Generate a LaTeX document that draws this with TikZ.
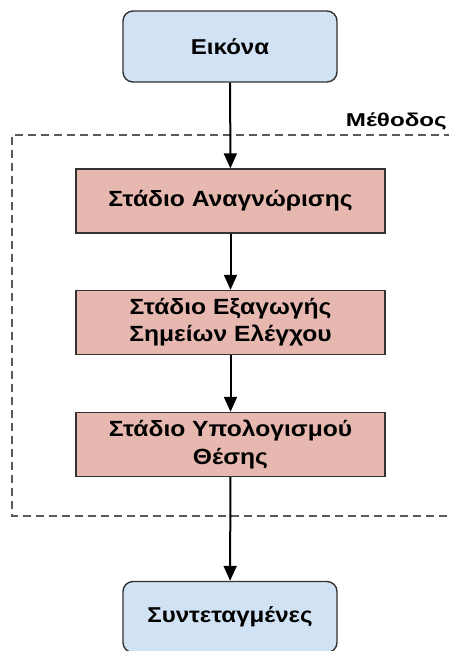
\documentclass[tikz,border=0pt]{standalone}
\usepackage{fontspec}
\setmainfont{Liberation Sans}[FakeStretch=1.12]
\newfontfamily\framelabelfont{Liberation Sans}[FakeStretch=1.3]
\usetikzlibrary{arrows.meta}
\definecolor{ioblue}{RGB}{208,226,243}
\definecolor{stagepink}{RGB}{230,184,175}
\definecolor{edgegray}{RGB}{51,51,51}
\definecolor{dashgray}{RGB}{90,90,90}
\tikzset{
  iobox/.style={draw=edgegray, line width=1.4pt, fill=ioblue, rounded corners=10pt,
    minimum width=214pt, minimum height=71pt, inner sep=0pt,
    font=\fontsize{21.5}{27.3}\selectfont\bfseries, align=center},
  stagebox/.style={draw=edgegray, line width=1.4pt, fill=stagepink,
    minimum width=309pt, minimum height=64pt, inner sep=0pt,
    font=\fontsize{22}{27.3}\selectfont\bfseries, align=center},
  flow/.style={draw=black, line width=2pt, -{Triangle[length=15pt,width=13pt]}},
  frame/.style={draw=dashgray, line width=1.3pt, dash pattern=on 8pt off 5pt}
}
\begin{document}
\begin{tikzpicture}[x=1pt,y=-1pt]
  \useasboundingbox (0,0) rectangle (448,651);
  % method frame (open on the right side)
  \coordinate (ftr) at (452,135);
  \coordinate (ftl) at (12,135);
  \coordinate (fbl) at (12,516);
  \coordinate (fbr) at (452,516);
  \draw[frame] (ftr) -- (ftl) -- (fbl) -- (fbr);
  \node[anchor=base east, inner sep=0pt, font=\framelabelfont\fontsize{18.6}{23}\selectfont\bfseries] (method) at (447,126) {Μέθοδος};

  \node[iobox] (img) at (230,46.5) {Εικόνα};
  \node[stagebox] (rec) at (230.5,201) {Στάδιο Αναγνώρισης};
  \node[stagebox] (ext) at (230.5,322.5) {Στάδιο Εξαγωγής\\Σημείων Ελέγχου};
  \node[stagebox] (pos) at (230.5,444.5) {Στάδιο Υπολογισμού\\Θέσης};
  \node[iobox] (out) at (230,617) {Συντεταγμένες};

  \draw[flow] (img) -- (rec);
  \draw[flow] (rec) -- (ext);
  \draw[flow] (ext) -- (pos);
  \draw[flow] (pos) -- (out);
\end{tikzpicture}
\end{document}
